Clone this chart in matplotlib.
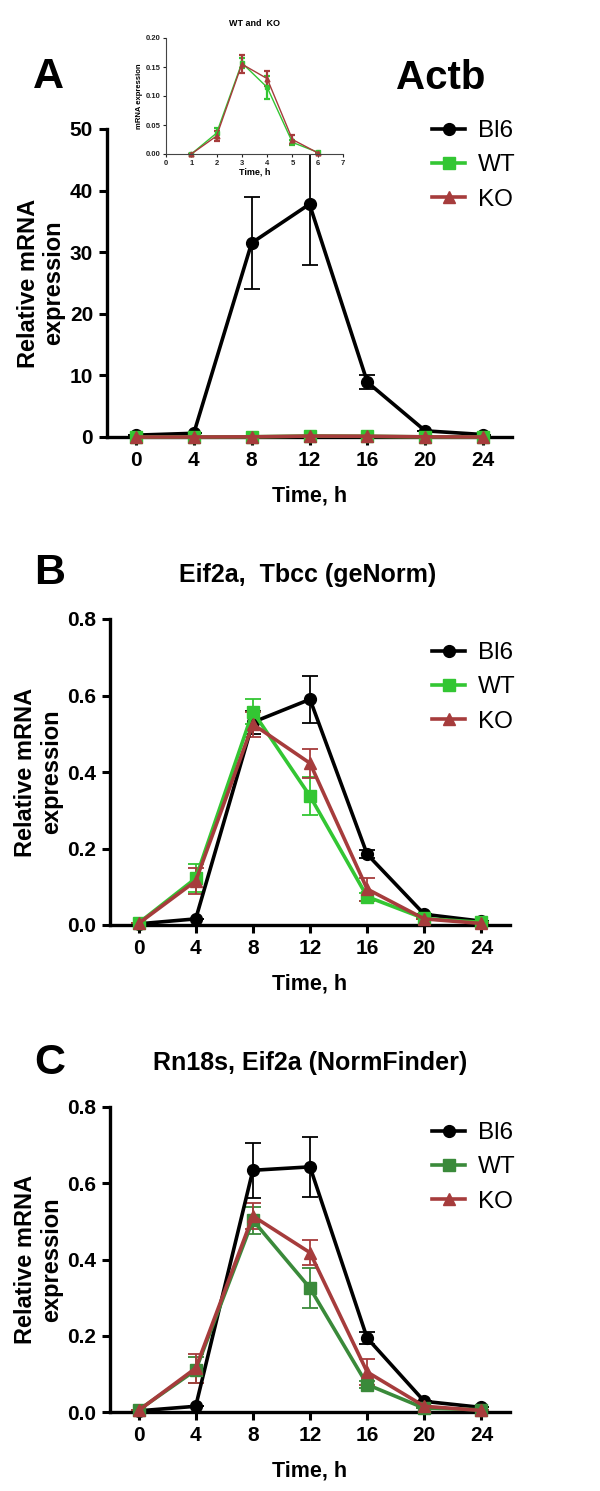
import matplotlib
matplotlib.use("Agg")
import matplotlib.pyplot as plt
from matplotlib.lines import Line2D

plt.rcParams['font.family'] = ['Liberation Sans', 'DejaVu Sans']

# ---------------- data ----------------
time_h = [0, 4, 8, 12, 16, 20, 24]
x_ticks = [0, 4, 8, 12, 16, 20, 24]

# Panel A (Actb)
a_bl6 = [0.3, 0.6, 31.5, 37.8, 8.9, 1.0, 0.4]
a_bl6_err = [0.0, 0.0, 7.5, 9.8, 1.1, 0.0, 0.0]
a_wt = [0.0, 0.0, 0.035, 0.157, 0.115, 0.02, 0.003]
a_ko = [0.0, 0.0, 0.03, 0.155, 0.13, 0.025, 0.002]
a_yticks = [0, 10, 20, 30, 40, 50]

# Inset (WT and KO)
ins_x = [1, 2, 3, 4, 5, 6]
ins_wt = [0.0, 0.036, 0.157, 0.115, 0.02, 0.003]
ins_wt_err = [0.0, 0.008, 0.008, 0.02, 0.004, 0.0]
ins_ko = [0.0, 0.031, 0.155, 0.13, 0.025, 0.002]
ins_ko_err = [0.0, 0.008, 0.015, 0.013, 0.007, 0.0]
ins_yticks = [0.00, 0.05, 0.10, 0.15, 0.20]
ins_xticks = [0, 1, 2, 3, 4, 5, 6, 7]

# Panel B (Eif2a, Tbcc geNorm)
b_bl6 = [0.003, 0.016, 0.53, 0.59, 0.185, 0.028, 0.01]
b_bl6_err = [0.0, 0.0, 0.03, 0.062, 0.01, 0.0, 0.0]
b_wt = [0.005, 0.122, 0.558, 0.337, 0.074, 0.017, 0.007]
b_wt_err = [0.0, 0.037, 0.033, 0.05, 0.01, 0.0, 0.0]
b_ko = [0.004, 0.115, 0.525, 0.423, 0.094, 0.016, 0.004]
b_ko_err = [0.0, 0.035, 0.033, 0.038, 0.03, 0.0, 0.0]

# Panel C (Rn18s, Eif2a NormFinder)
c_bl6 = [0.003, 0.015, 0.634, 0.643, 0.194, 0.028, 0.012]
c_bl6_err = [0.0, 0.0, 0.072, 0.079, 0.016, 0.0, 0.0]
c_wt = [0.005, 0.11, 0.503, 0.325, 0.072, 0.01, 0.006]
c_wt_err = [0.0, 0.035, 0.035, 0.052, 0.01, 0.0, 0.0]
c_ko = [0.004, 0.115, 0.514, 0.418, 0.105, 0.015, 0.004]
c_ko_err = [0.0, 0.038, 0.033, 0.033, 0.034, 0.0, 0.0]
bc_yticks = [0.0, 0.2, 0.4, 0.6, 0.8]

labels = ['Bl6', 'WT', 'KO']

# ---------------- style ----------------
BLACK = '#000000'
GREEN = '#33c633'
GREEN_C = '#3a8a3a'
RED = '#a63c3c'

fig = plt.figure(figsize=(6.0, 14.91), dpi=100)

def fpos(left_px, top_px, right_px, bottom_px):
    W, H = 600.0, 1491.0
    return [left_px / W, 1 - bottom_px / H, (right_px - left_px) / W, (bottom_px - top_px) / H]

def style_axes(ax, ylim, yticks, yfmt):
    ax.set_xlim(-2, 26)
    ax.set_ylim(*ylim)
    ax.set_xticks(x_ticks)
    ax.set_yticks(yticks)
    ax.set_yticklabels([yfmt.format(v) for v in yticks])
    for s in ['top', 'right']:
        ax.spines[s].set_visible(False)
    for s in ['left', 'bottom']:
        ax.spines[s].set_linewidth(2.4)
    ax.tick_params(axis='both', width=2.2, length=6, labelsize=15, pad=4)
    for lab in ax.get_xticklabels() + ax.get_yticklabels():
        lab.set_fontweight('bold')
    ax.set_xlabel('Time, h', fontsize=15.5, fontweight='bold', labelpad=11)
    ax.set_ylabel('Relative mRNA\nexpression', fontsize=17, fontweight='bold',
                  linespacing=1.15, labelpad=3)

def plot_series(ax, y, err, color, marker, ms):
    ax.errorbar(time_h, y, yerr=err, color=color, marker=marker, markersize=ms,
                linewidth=2.6, elinewidth=1.3, capsize=6, capthick=1.3,
                markeredgecolor=color, clip_on=False, zorder=3)

def add_legend(ax, wt_color, anchor):
    handles = [
        Line2D([], [], color=BLACK, marker='o', markersize=8.5, linewidth=2.6),
        Line2D([], [], color=wt_color, marker='s', markersize=8, linewidth=2.6),
        Line2D([], [], color=RED, marker='^', markersize=8.5, linewidth=2.6),
    ]
    ax.legend(handles, labels, loc='upper left', bbox_to_anchor=anchor,
              bbox_transform=fig.transFigure, frameon=False, fontsize=17.5,
              handlelength=1.35, handletextpad=0.55, labelspacing=0.5, borderpad=0)

# ---------------- Panel A ----------------
axA = fig.add_axes(fpos(107, 129, 512, 437))
plot_series(axA, a_bl6, a_bl6_err, BLACK, 'o', 8.5)
plot_series(axA, a_wt, None, GREEN, 's', 8)
plot_series(axA, a_ko, None, RED, '^', 8.5)
style_axes(axA, (0, 50), a_yticks, '{:g}')
add_legend(axA, GREEN, (420 / 600, 1 - 108 / 1491))
fig.text(33 / 600, 1 - 77 / 1491, 'A', fontsize=31, fontweight='bold', ha='left', va='center')
fig.text(441 / 600, 1 - 78 / 1491, 'Actb', fontsize=29, fontweight='bold', ha='center', va='center')

# Inset
axI = fig.add_axes(fpos(166, 38, 343, 154))
axI.errorbar(ins_x, ins_wt, yerr=ins_wt_err, color=GREEN, marker='s', markersize=3.5,
             linewidth=1.0, elinewidth=1.6, capsize=2.5, capthick=1.6, clip_on=False)
axI.errorbar(ins_x, ins_ko, yerr=ins_ko_err, color=RED, marker='^', markersize=3.5,
             linewidth=1.0, elinewidth=1.6, capsize=2.5, capthick=1.6, clip_on=False)
axI.set_xlim(0, 7)
axI.set_ylim(0, 0.20)
axI.set_xticks(ins_xticks)
axI.set_yticks(ins_yticks)
axI.set_yticklabels(['{:.2f}'.format(v) for v in ins_yticks])
for s in ['top', 'right']:
    axI.spines[s].set_visible(False)
for s in ['left', 'bottom']:
    axI.spines[s].set_linewidth(0.8)
    axI.spines[s].set_color('#444444')
axI.tick_params(axis='both', width=0.8, length=2.5, labelsize=5.5, pad=1.5, colors='#222222')
for lab in axI.get_xticklabels() + axI.get_yticklabels():
    lab.set_fontweight('bold')
axI.set_xlabel('Time, h', fontsize=6.5, fontweight='bold', labelpad=1)
axI.set_ylabel('mRNA expression', fontsize=5.5, fontweight='bold', labelpad=2)
axI.set_title('WT and  KO', fontsize=6.5, fontweight='bold', pad=9)

# ---------------- Panel B ----------------
axB = fig.add_axes(fpos(110, 619, 510, 925))
plot_series(axB, b_bl6, b_bl6_err, BLACK, 'o', 8.5)
plot_series(axB, b_wt, b_wt_err, GREEN, 's', 8)
plot_series(axB, b_ko, b_ko_err, RED, '^', 8.5)
style_axes(axB, (0, 0.8), bc_yticks, '{:.1f}')
add_legend(axB, GREEN, (420 / 600, 1 - 630 / 1491))
fig.text(34 / 600, 1 - 573 / 1491, 'B', fontsize=31, fontweight='bold', ha='left', va='center')
fig.text(308 / 600, 1 - 575 / 1491, 'Eif2a,  Tbcc (geNorm)', fontsize=18, fontweight='bold',
         ha='center', va='center')

# ---------------- Panel C ----------------
axC = fig.add_axes(fpos(110, 1107, 510, 1412))
plot_series(axC, c_bl6, c_bl6_err, BLACK, 'o', 8.5)
plot_series(axC, c_wt, c_wt_err, GREEN_C, 's', 8)
plot_series(axC, c_ko, c_ko_err, RED, '^', 8.5)
style_axes(axC, (0, 0.8), bc_yticks, '{:.1f}')
add_legend(axC, GREEN_C, (420 / 600, 1 - 1110 / 1491))
fig.text(34 / 600, 1 - 1063 / 1491, 'C', fontsize=31, fontweight='bold', ha='left', va='center')
fig.text(310 / 600, 1 - 1063 / 1491, 'Rn18s, Eif2a (NormFinder)', fontsize=18, fontweight='bold',
         ha='center', va='center')

fig.savefig('out.png', dpi=100)
